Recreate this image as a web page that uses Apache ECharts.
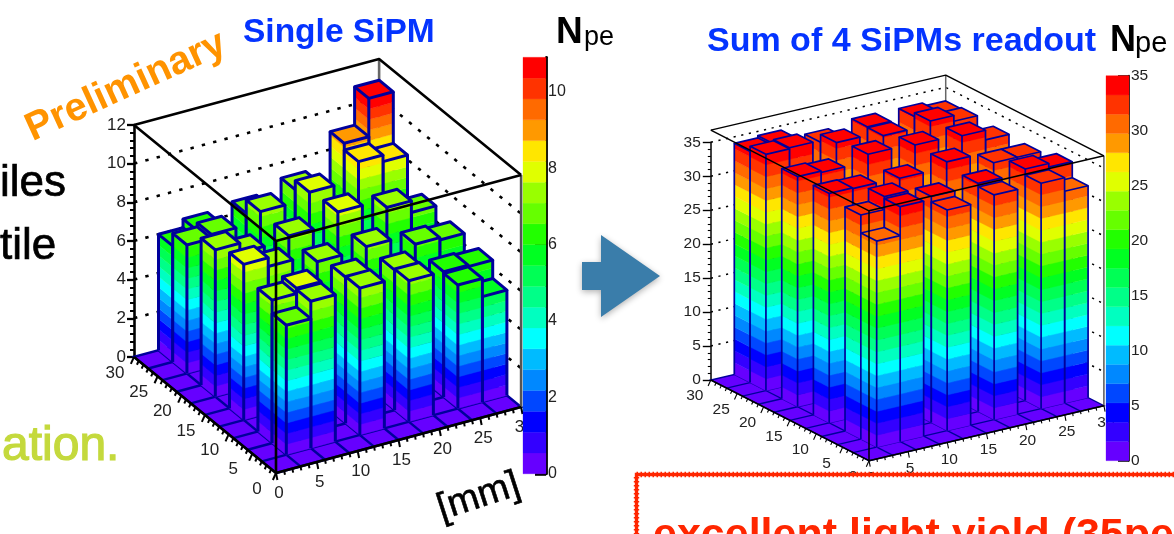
<!DOCTYPE html>
<html><head><meta charset="utf-8">
<style>html,body{margin:0;padding:0;background:#fff}#c{width:1174px;height:534px}</style>
<script src="https://cdn.jsdelivr.net/npm/echarts@6/dist/echarts.min.js"></script>
</head><body><div id="c"></div>
<script>
// ---- data -----------------------------------------------------------------
const binLowEdgesMm = [3, 6, 12, 18, 24, 27];          // both axes, bins are 3 mm wide
const singleSipmRows = [                               // one row per x bin, y ascending
  [6.7, 7.4, 8.05, 7.6, 6.65, 6.0],
  [7.6, 7.67, 7.6, 7.1, 6.85, 6.45],
  [7.6, 7.56, 7.16, 7.3, 7.35, 6.66],
  [7.3, 7.25, 7.26, 7.85, 7.67, 7.2],
  [6.39, 6.48, 6.7, 7.4, 8.57, 8.92],
  [5.45, 6.4, 6.58, 6.8, 8.23, 10.9]
];
const sumOfFourRows = [
  [30.35, 33.0, 33.8, 33.9, 34.8, 34.05],
  [34.6, 34.9, 33.7, 33.7, 34.96, 34.36],
  [32.5, 33.3, 33.6, 34.76, 34.1, 32.95],
  [33.1, 33.6, 34.4, 34.5, 33.5, 33.6],
  [33.2, 34.1, 32.65, 34.25, 34.04, 33.5],
  [31.2, 33.56, 32.65, 32.84, 33.2, 33.0]
];
const floorTicksMm = [0, 5, 10, 15, 20, 25, 30];
const singleZTicks = [0, 2, 4, 6, 8, 10, 12];
const sumZTicks = [0, 5, 10, 15, 20, 25, 30, 35];
const singleBarTicks = [0, 2, 4, 6, 8, 10];
const sumBarTicks = [0, 5, 10, 15, 20, 25, 30, 35];
const contourColours = ['#6600FF','#3300FF','#0000FF','#0047FF','#0088FF','#00BBFF','#00FFFF','#00FFC0','#00FF88','#00FF55',
  '#00FF22','#22FF00','#66FF00','#99FF00','#E0FF00','#FFE600','#FF9900','#FF6A00','#FF3300','#FF0000'];
// ---- layout ---------------------------------------------------------------
const FONT = '"Liberation Sans", Arial, sans-serif';
const left = { rows: singleSipmRows, zmax: 12, cmax: 10.9, zTicks: singleZTicks.slice(1),
  ux: 8.17, uy: -4.733, vx: 2.2, vy: 3.87, vz: 19.33,
  box: { left: 134, top: 57, width: 387, height: 416 }, umin: -142,
  barLw: 3, gridLw: 2.4, boxLw: 2.6, dot: [3.4, 8.3], dotLw: 2.6, tickLw: 2,
  xLab: [3, 20], yLab: [-19, 16], tickFont: 17, cbFont: 16, major: 7, minor: 4, zTickLen: 7, zMargin: 8 };
const right = { rows: sumOfFourRows, zmax: 36.8, cmax: 35, zTicks: sumZTicks.slice(1),
  ux: 7.83, uy: -5.273, vx: 1.833, vy: 2.69, vz: 6.79,
  box: { left: 710.8, top: 70, width: 393.2, height: 390.7 }, umin: -158.2,
  barLw: 1.7, gridLw: 1.4, boxLw: 1.5, dot: [2.2, 5.6], dotLw: 1.5, tickLw: 1.1,
  xLab: [2, 17], yLab: [-16, 16], tickFont: 15.5, cbFont: 15.5, major: 6, minor: 3, zTickLen: 8, zMargin: 10 };

function projector(p, api) {
  return (x, y, z) => api.coord([p.ux * x + p.uy * y, p.vx * x + p.vy * y + p.vz * z]);
}
const bandOf = (p, v) => Math.min(19, Math.floor(v / (p.cmax / 20)));
function line(points, stroke, lw, z2, dash) {
  return { type: 'polyline', silent: true, z2: z2 || 0, shape: { points },
    style: { stroke, fill: null, lineWidth: lw, lineDash: dash || null, lineCap: 'butt', lineJoin: 'round' } };
}
function label(text, pt, off, size, z2) {
  return { type: 'text', silent: true, z2: z2 || 0, style: { text: String(text), x: pt[0] + off[0], y: pt[1] + off[1],
    font: size + 'px ' + FONT, fill: '#222', align: 'center', verticalAlign: 'middle' } };
}
function renderBack(p) {
  return function (params, api) {
    const P = projector(p, api), ch = [];
    ch.push({ type: 'polygon', silent: true, shape: { points: [P(0,0,0), P(30,0,0), P(30,30,0), P(0,30,0)] },
      style: { fill: contourColours[0], stroke: '#00009C', lineWidth: p.gridLw } });
    for (let m = 3; m < 30; m += 3) {
      ch.push(line([P(m,0,0), P(m,30,0)], '#00009C', p.gridLw));
      ch.push(line([P(0,m,0), P(30,m,0)], '#00009C', p.gridLw));
    }
    p.zTicks.forEach(z => {
      if (z < p.zmax) ch.push(line([P(0,30,z), P(30,30,z), P(30,0,z)], '#000', p.dotLw, 0, p.dot));
    });
    ch.push(line([P(30,30,0), P(30,30,p.zmax)], '#666', p.boxLw));
    ch.push(line([P(30,0,0), P(30,0,p.zmax)], '#555', p.boxLw));
    ch.push(line([P(0,30,p.zmax), P(30,30,p.zmax), P(30,0,p.zmax)], '#000', p.boxLw));
    return { type: 'group', children: ch };
  };
}
function renderBar(p) {
  const w = 3, bh = p.cmax / 20;
  return function (params, api) {
    const P = projector(p, api), x = api.value(0), y = api.value(1), z = api.value(2), ch = [];
    for (let i = 0; i < 20 && i * bh < z; i++) {
      const lo = i * bh, hi = Math.min(z, (i + 1) * bh), c = contourColours[i];
      [[x, y + w, x, y], [x, y, x + w, y]].forEach(f => {
        ch.push({ type: 'polygon', silent: true, shape: { points: [P(f[0],f[1],lo), P(f[2],f[3],lo), P(f[2],f[3],hi), P(f[0],f[1],hi)] },
          style: { fill: c, stroke: c, lineWidth: 0.4 } });
      });
    }
    const ec = '#00009C';
    ch.push(line([P(x,y+w,0), P(x,y+w,z)], ec, p.barLw));
    ch.push(line([P(x,y,0), P(x,y,z)], ec, p.barLw));
    ch.push(line([P(x+w,y,0), P(x+w,y,z)], ec, p.barLw));
    ch.push({ type: 'polygon', silent: true, shape: { points: [P(x,y,z), P(x+w,y,z), P(x+w,y+w,z), P(x,y+w,z)] },
      style: { fill: contourColours[bandOf(p, z)], stroke: ec, lineWidth: p.barLw, lineJoin: 'round' } });
    ch.forEach(e => { e.z2 = params.dataIndex * 2; });
    return { type: 'group', children: ch };
  };
}
function renderFront(p) {
  return function (params, api) {
    const P = projector(p, api), ch = [];
    ch.push(line([P(0,30,p.zmax), P(0,0,p.zmax), P(30,0,p.zmax)], '#000', p.boxLw));
    ch.push(line([P(0,0,0), P(0,0,p.zmax)], '#000', p.boxLw));
    ch.push(line([P(0,30,0), P(0,0,0), P(30,0,0)], '#000', p.boxLw));
    for (let m = 0; m <= 30; m++) {
      const maj = m % 5 === 0, a = maj ? p.major : p.minor;
      const px = P(m, 0, 0), py = P(0, m, 0);
      ch.push(line([px, [px[0] + a * 0.2, px[1] + a]], '#000', p.tickLw));
      ch.push(line([py, [py[0] - a * 0.45, py[1] + a]], '#000', p.tickLw));
    }
    floorTicksMm.forEach(m => {
      ch.push(label(m, P(m,0,0), p.xLab, p.tickFont));
      ch.push(label(m, P(0,m,0), p.yLab, p.tickFont));
    });
    return { type: 'group', children: ch };
  };
}
function renderBand(params, api) {
  const a = api.coord([0, api.value(1)]), b = api.coord([1, api.value(2)]);
  return { type: 'rect', silent: true, shape: { x: a[0], y: b[1], width: b[0] - a[0], height: a[1] - b[1] },
    style: { fill: contourColours[api.value(0)], stroke: contourColours[api.value(0)], lineWidth: 0.3 } };
}
function barData(p) {
  const out = [];
  p.rows.forEach((r, i) => r.forEach((v, j) => out.push([binLowEdgesMm[i], binLowEdgesMm[j], v])));
  return out.sort((a, b) => (b[0] + b[1]) - (a[0] + a[1]));   // painter's order, far bars first
}
function bandData(p) { return contourColours.map((c, i) => [i, i * p.cmax / 20, (i + 1) * p.cmax / 20]); }

const hiddenX = (g, min, max) => ({ type: 'value', gridIndex: g, show: false, min, max });
const hiddenY = (g, min, max) => ({ type: 'value', gridIndex: g, show: false, min, max });
const customOn = (g, data, renderItem, z) => ({ type: 'custom', coordinateSystem: 'cartesian2d', xAxisIndex: g, yAxisIndex: g,
  data, renderItem, z, silent: true, clip: false, animation: false, progressive: 0, encode: { x: 0, y: 1 } });
const zAxisOf = (g, max, interval, p) => ({ type: 'value', gridIndex: g, position: 'left', min: 0, max, interval,
  splitLine: { show: false },
  axisLine: { show: true, onZero: false, lineStyle: { color: '#000', width: p.boxLw } },
  axisTick: { show: true, inside: false, length: p.zTickLen, lineStyle: { color: '#000', width: p.tickLw + .3 } },
  minorTick: { show: true, splitNumber: 5, length: p.minor, lineStyle: { color: '#000', width: p.tickLw } },
  axisLabel: { margin: p.zMargin, color: '#222', fontFamily: FONT, fontSize: p.tickFont } });
const cbAxisOf = (g, p, interval, ticks) => ({ type: 'value', gridIndex: g, position: 'right', min: 0, max: p.cmax, interval,
  splitLine: { show: false },
  axisLine: { show: true, onZero: false, lineStyle: { color: '#000', width: p.boxLw + .2 } },
  axisTick: { show: true, inside: true, length: 11, customValues: ticks, lineStyle: { color: '#000', width: p.boxLw } },
  axisLabel: { margin: 2, color: '#222', fontFamily: FONT, fontSize: p.cbFont, customValues: ticks } });
// text placed by its baseline: the local offset turns the em-box middle into a baseline position
function txt(str, x, baseline, size, weight, fill, extra) {
  return Object.assign({ type: 'text', silent: true, z: 9, x, y: baseline,
    style: Object.assign({ text: str, x: 0, y: -0.3 * size, font: (weight ? weight + ' ' : '') + size + 'px ' + FONT,
      fill, verticalAlign: 'middle' }, extra && extra.style) }, extra && extra.el);
}
const heavy = (c, w) => ({ style: { stroke: c, lineWidth: w } });

const option = {
  animation: false, backgroundColor: '#fff',
  grid: [
    Object.assign({ containLabel: false }, left.box),
    { left: 134, top: 125, width: 10, height: 232 },
    { left: 523, top: 57.3, width: 23, height: 416.5 },
    Object.assign({ containLabel: false }, right.box),
    { left: 710.8, top: 142.3, width: 10, height: 237.7 },
    { left: 1106, top: 75.7, width: 23, height: 385 }
  ],
  xAxis: [hiddenX(0, left.umin, left.umin + 387), hiddenX(1, 0, 1), hiddenX(2, 0, 1),
          hiddenX(3, right.umin, right.umin + 393.2), hiddenX(4, 0, 1), hiddenX(5, 0, 1)],
  yAxis: [hiddenY(0, 0, 416), zAxisOf(1, 12, 2, left), cbAxisOf(2, left, 2, singleBarTicks),
          hiddenY(3, 0, 390.7), zAxisOf(4, 35, 5, right), cbAxisOf(5, right, 5, sumBarTicks)],
  series: [
    customOn(0, [[0, 0]], renderBack(left), 2),
    customOn(0, barData(left), renderBar(left), 3),
    customOn(0, [[0, 0]], renderFront(left), 4),
    customOn(2, bandData(left), renderBand, 5),
    customOn(3, [[0, 0]], renderBack(right), 2),
    customOn(3, barData(right), renderBar(right), 3),
    customOn(3, [[0, 0]], renderFront(right), 4),
    customOn(5, bandData(right), renderBand, 5)
  ],
  graphic: { elements: [
    txt('iles', 0, 197, 44, '', '#000', heavy('#000', 0.7)),
    txt('tile', 0, 260, 44, '', '#000', heavy('#000', 0.7)),
    txt('ation.', 2, 461, 48, '', '#C4D93C', heavy('#C4D93C', 1.2)),
    txt('Preliminary', 33, 142, 39.5, 'bold', '#FF9300', { el: { rotation: 24.5 * Math.PI / 180 } }),
    txt('Single SiPM', 243, 43, 33.5, 'bold', '#0433FF'),
    txt('Sum of 4 SiPMs readout', 707, 52, 34, 'bold', '#0433FF'),
    txt('N', 556, 44, 37, 'bold', '#000'),
    txt('pe', 584, 46, 27, '', '#000'),
    txt('N', 1110, 52, 36, 'bold', '#000'),
    txt('pe', 1135, 53, 29, '', '#000'),
    txt('[mm]', 442, 521, 38, '', '#000', { el: { rotation: 18 * Math.PI / 180 }, style: { stroke: '#000', lineWidth: 0.6 } }),
    { type: 'polygon', silent: true, z: 9, shape: { points: [[582,262],[601,262],[601,235],[660,276],[601,317],[601,290],[582,290]] },
      style: { fill: '#3A7DAA', shadowBlur: 6, shadowColor: 'rgba(0,0,0,.3)', shadowOffsetY: 2 } },
    { type: 'rect', silent: true, z: 10, shape: { x: 636.5, y: 474.5, width: 560, height: 120 }, style: { fill: '#fff', stroke: '#FF2600', lineWidth: 3.4 } },
    { type: 'rect', silent: true, z: 11, shape: { x: 636.5, y: 474.5, width: 560, height: 120 }, style: { fill: null, stroke: '#FF2600', lineWidth: 5.4, lineDash: [1.5, 2.5] } },
    Object.assign(txt('excellent light yield (35pe', 653, 549, 43, 'bold', '#FF2600'), { z: 11 })
  ] }
};
const chart = echarts.init(document.getElementById('c'), null, { renderer: 'canvas', width: 1174, height: 534 });
chart.setOption(option);
</script></body></html>
